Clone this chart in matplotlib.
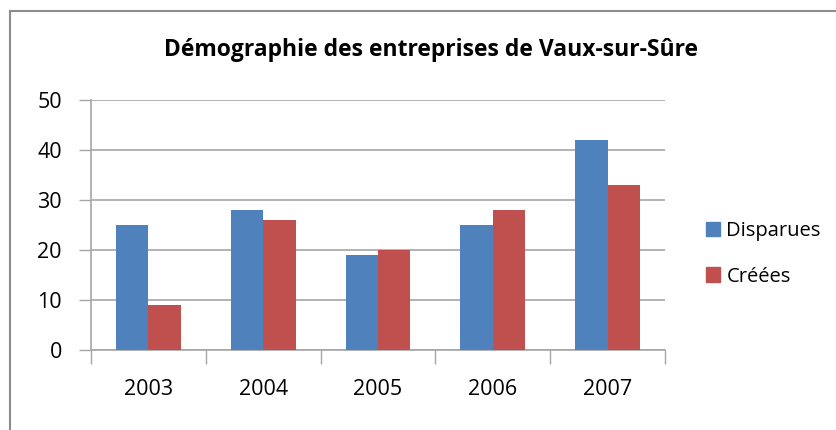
import numpy as np
import matplotlib.pyplot as plt
from matplotlib.lines import Line2D
from matplotlib.patches import Patch

# Données
annees = ['2003', '2004', '2005', '2006', '2007']
disparues = [25, 28, 19, 25, 42]
creees = [9, 26, 20, 28, 33]

bleu = '#4F81BD'
rouge = '#C0504D'
gris = '#A6A6A6'

plt.rcParams['font.family'] = ['Open Sans', 'DejaVu Sans']

fig = plt.figure(figsize=(8.36, 4.30), dpi=100)
ax = fig.add_axes([91 / 836, 1 - 350 / 430, (665 - 91) / 836, 250 / 430])

x = np.arange(len(annees))
largeur = 0.283
ax.bar(x - largeur / 2, disparues, largeur, color=bleu, label='Disparues', zorder=3)
ax.bar(x + largeur / 2, creees, largeur, color=rouge, label='Créées', zorder=3)

ax.set_xlim(-0.5, len(annees) - 0.5)
ax.set_ylim(0, 50)
ax.set_yticks(range(0, 51, 10))
ax.yaxis.grid(True, color=gris, linewidth=1.2, zorder=0)
ax.tick_params(axis='y', length=9, width=1, color=gris, labelsize=15.5, pad=12)

# graduations entre les catégories, étiquettes au centre
ax.set_xticks(np.arange(-0.5, len(annees), 1))
ax.set_xticklabels([])
ax.tick_params(axis='x', which='major', length=10, width=1, color=gris)
ax.set_xticks(x, minor=True)
ax.set_xticklabels(annees, minor=True)
ax.tick_params(axis='x', which='minor', length=0, labelsize=15.5, pad=21)

for cote in ['top', 'right']:
    ax.spines[cote].set_visible(False)
for cote in ['left', 'bottom']:
    ax.spines[cote].set_color(gris)
    ax.spines[cote].set_linewidth(1.2)

fig.text(0.5 * (145 + 717) / 836, 1 - 50 / 430, 'Démographie des entreprises de Vaux-sur-Sûre',
         ha='center', va='center', fontsize=16.5, fontweight='bold')

fig.legend(handles=[Patch(color=bleu, label='Disparues'), Patch(color=rouge, label='Créées')],
           loc='center left', bbox_to_anchor=(688 / 836, 1 - 254 / 430), frameon=False,
           fontsize=14.5, handlelength=0.7, handleheight=0.7, handletextpad=0.3, labelspacing=1.25)

# cadre du graphique
fig.add_artist(Line2D([10 / 836, 10 / 836], [0, 1 - 11 / 430], color='#8C8C8C', linewidth=1.5))
fig.add_artist(Line2D([10 / 836, 1], [1 - 11 / 430, 1 - 11 / 430], color='#8C8C8C', linewidth=1.5))

fig.savefig('out.png', dpi=100)
